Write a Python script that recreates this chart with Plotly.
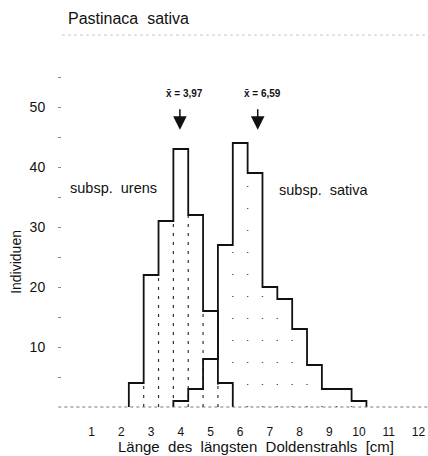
import numpy as np
import plotly.graph_objects as go

# ---- data ----
bin_width = 0.5
urens_bins = [2.5, 3.0, 3.5, 4.0, 4.5, 5.0, 5.5]
urens_counts = [4, 22, 31, 43, 32, 16, 4]
sativa_bins = [4.0, 4.5, 5.0, 5.5, 6.0, 6.5, 7.0, 7.5, 8.0, 8.5, 9.0, 9.5, 10.0]
sativa_counts = [1, 3, 8, 27, 44, 39, 20, 18, 13, 7, 3, 3, 1]
mean_urens = 3.97
mean_sativa = 6.59
x_ticks = list(range(1, 13))
y_ticks = [5, 10, 15, 20, 25, 30, 35, 40, 45, 50, 55]
y_ticktext = ["" if v % 10 else str(v) for v in y_ticks]

FONT = "Liberation Sans, Arial, Helvetica, sans-serif"
INK = "#111111"
W, H = 428, 456


def outline(bins, counts):
    xs, ys = [], []
    b = np.asarray(bins, float)
    c = np.asarray(counts, float)
    xs.append(b[0] - bin_width / 2); ys.append(0)
    for xc, h in zip(b, c):
        xs += [xc - bin_width / 2, xc + bin_width / 2]
        ys += [h, h]
    xs.append(b[-1] + bin_width / 2); ys.append(0)
    return xs, ys


def inner_edges(bins, counts):
    xs, ys = [], []
    for i in range(len(bins) - 1):
        e = (bins[i] + bins[i + 1]) / 2
        h = min(counts[i], counts[i + 1])
        xs += [e, e, None]
        ys += [0, h, None]
    return xs, ys


fig = go.Figure()

# hatching inside the bars
ux, uy = inner_edges(urens_bins, urens_counts)
fig.add_trace(go.Scatter(x=ux, y=uy, mode="lines", hoverinfo="skip",
                         line=dict(color="#333333", width=1.2, dash="3px,6px"),
                         showlegend=False))
sx, sy = inner_edges(sativa_bins, sativa_counts)
fig.add_trace(go.Scatter(x=sx, y=sy, mode="lines", hoverinfo="skip",
                         line=dict(color="#555555", width=1.4, dash="1px,21px"),
                         showlegend=False))

# outlines
ox, oy = outline(sativa_bins, sativa_counts)
fig.add_trace(go.Scatter(x=ox, y=oy, mode="lines", name="subsp. sativa",
                         line=dict(color=INK, width=1.8), showlegend=False))
ox, oy = outline(urens_bins, urens_counts)
fig.add_trace(go.Scatter(x=ox, y=oy, mode="lines", name="subsp. urens",
                         line=dict(color=INK, width=1.8), showlegend=False))

annotations = []
for m in (mean_urens, mean_sativa):
    annotations.append(dict(x=m, y=46.2, xref="x", yref="y", text="",
                            showarrow=True, ax=0, ay=-22, arrowhead=2,
                            arrowsize=1.8, arrowwidth=1.5, arrowcolor=INK))
    annotations.append(dict(x=m, y=52.3, xref="x", yref="y",
                            text="<b>x\u0304 = " + f"{m:.2f}".replace(".", ",") + "</b>",
                            showarrow=False, xshift=5,
                            font=dict(family=FONT, size=10, color=INK)))

annotations.append(dict(x=1.74, y=36.5, xref="x", yref="y",
                        text="subsp.\u00a0\u00a0urens", showarrow=False,
                        font=dict(family=FONT, size=14.5, color=INK)))
annotations.append(dict(x=8.83, y=36.2, xref="x", yref="y",
                        text="subsp.\u00a0\u00a0sativa", showarrow=False,
                        font=dict(family=FONT, size=14.5, color=INK)))
annotations.append(dict(x=0.53, y=-0.095, xref="paper", yref="paper",
                        xanchor="center", yanchor="middle",
                        text="Länge\u00a0\u00a0des\u00a0\u00a0längsten\u00a0\u00a0Doldenstrahls\u00a0\u00a0[cm]",
                        showarrow=False, font=dict(family=FONT, size=15, color=INK)))
annotations.append(dict(x=-0.126, y=0.434, xref="paper", yref="paper",
                        xanchor="center", yanchor="middle",
                        text="Individuen", textangle=-90, showarrow=False,
                        font=dict(family=FONT, size=14, color=INK)))

shapes = [
    dict(type="line", xref="paper", yref="y", x0=-0.01, x1=1, y0=0, y1=0,
         line=dict(color="#777777", width=1, dash="dot")),
    dict(type="line", xref="paper", yref="paper", x0=0.0, x1=1, y0=1.086, y1=1.086,
         line=dict(color="#c8c8c8", width=1, dash="dot")),
]

fig.update_layout(
    width=W, height=H,
    margin=dict(l=62, r=0, t=65, b=43),
    paper_bgcolor="white", plot_bgcolor="white",
    title=dict(text="Pastinaca\u00a0\u00a0sativa", x=68 / W, xanchor="left",
               y=1 - 18 / H, yanchor="middle",
               font=dict(family=FONT, size=16, color=INK)),
    annotations=annotations, shapes=shapes, showlegend=False,
)
fig.update_xaxes(range=[0, 366 / 29.7], tickvals=x_ticks, ticks="outside",
                 ticklen=8, tickcolor="rgba(0,0,0,0)", showgrid=False,
                 zeroline=False, showline=False, ticklabeloverflow="allow",
                 tickfont=dict(family=FONT, size=12, color=INK))
fig.update_yaxes(range=[-1, 57], tickvals=y_ticks, ticktext=y_ticktext,
                 ticks="outside", ticklen=3, tickcolor="#888888",
                 ticklabelstandoff=10, showgrid=False, zeroline=False,
                 showline=False, tickfont=dict(family=FONT, size=14, color=INK))

fig.write_html(
    "out.html",
    config={"displayModeBar": False},
    post_script="document.body.style.margin='0';document.body.style.overflow='hidden';",
)
